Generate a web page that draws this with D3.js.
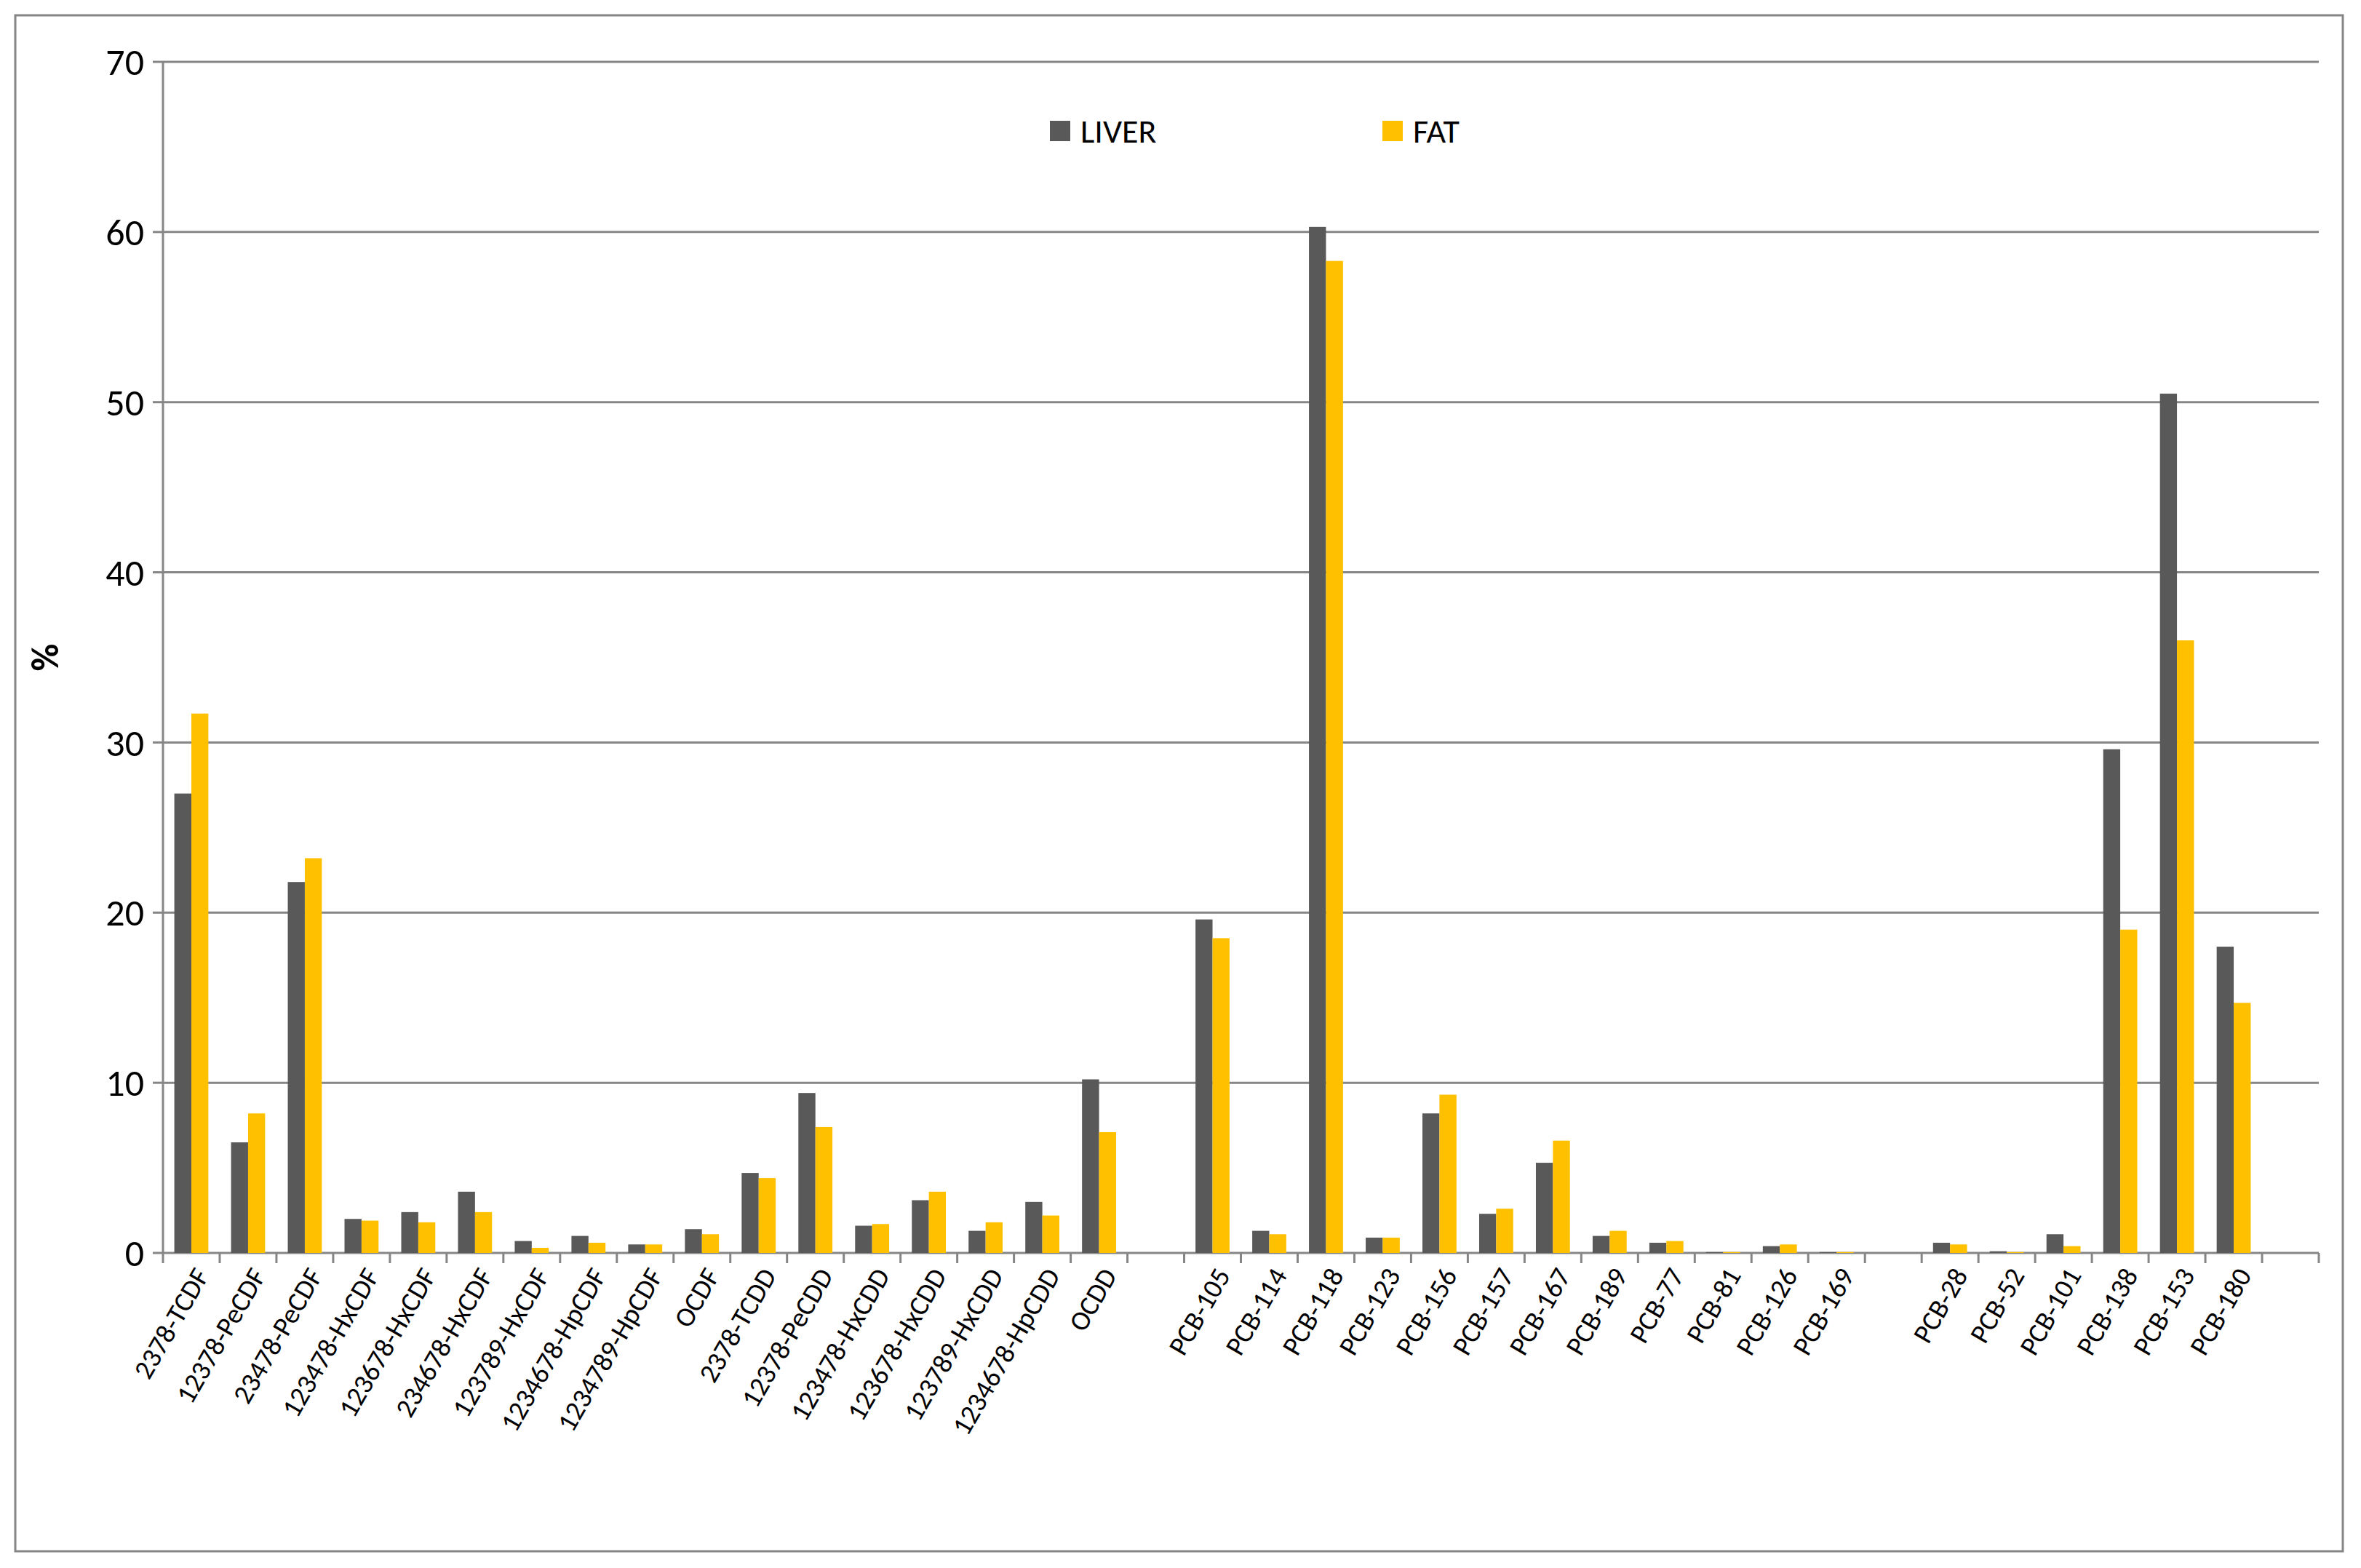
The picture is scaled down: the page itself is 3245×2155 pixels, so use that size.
<!DOCTYPE html>
<html><head><meta charset="utf-8">
<script src="https://cdn.jsdelivr.net/npm/d3@7"></script>
<style>body{margin:0;background:#fff}</style></head>
<body><svg id="c" width="3245" height="2155"></svg>
<script>
const categories=["2378-TCDF","12378-PeCDF","23478-PeCDF","123478-HxCDF","123678-HxCDF","234678-HxCDF","123789-HxCDF","1234678-HpCDF","1234789-HpCDF","OCDF","2378-TCDD","12378-PeCDD","123478-HxCDD","123678-HxCDD","123789-HxCDD","1234678-HpCDD","OCDD","_gap1","PCB-105","PCB-114","PCB-118","PCB-123","PCB-156","PCB-157","PCB-167","PCB-189","PCB-77","PCB-81","PCB-126","PCB-169","_gap2","PCB-28","PCB-52","PCB-101","PCB-138","PCB-153","PCB-180","_gap3"];
const liver=[27,6.5,21.8,2.0,2.4,3.6,0.7,1.0,0.5,1.4,4.7,9.4,1.6,3.1,1.3,3.0,10.2,null,19.6,1.3,60.3,0.9,8.2,2.3,5.3,1.0,0.6,0.05,0.4,0.05,null,0.6,0.1,1.1,29.6,50.5,18.0,null];
const fat=[31.7,8.2,23.2,1.9,1.8,2.4,0.3,0.6,0.5,1.1,4.4,7.4,1.7,3.6,1.8,2.2,7.1,null,18.5,1.1,58.3,0.9,9.3,2.6,6.6,1.3,0.7,0.05,0.5,0.05,null,0.5,0.05,0.4,19.0,36.0,14.7,null];
const yTicks=[0,10,20,30,40,50,60,70];
const seriesNames=["LIVER","FAT"];
const colors=["#595959","#FFC000"];

const svg=d3.select("#c");
svg.append("rect").attr("x",21).attr("y",21).attr("width",3199).attr("height",2111).attr("fill","#fff").attr("stroke","#868686").attr("stroke-width",3);
const L=224,R=3187,T=85,B=1722;
const x=d3.scaleBand().domain(categories).range([L,R]);
const y=d3.scaleLinear().domain([0,70]).range([B,T]);
const font="Calibri, Carlito, 'Open Sans', sans-serif";
svg.append("g").selectAll("line").data(yTicks).join("line")
 .attr("x1",L).attr("x2",R).attr("y1",d=>y(d)).attr("y2",d=>y(d)).attr("stroke","#868686").attr("stroke-width",3);
svg.append("line").attr("x1",L).attr("x2",L).attr("y1",T).attr("y2",B).attr("stroke","#868686").attr("stroke-width",3);
svg.append("g").selectAll("line").data(yTicks).join("line")
 .attr("x1",L-14).attr("x2",L).attr("y1",d=>y(d)).attr("y2",d=>y(d)).attr("stroke","#868686").attr("stroke-width",3);
svg.append("g").selectAll("text").data(yTicks).join("text")
 .attr("x",L-26).attr("y",d=>y(d)).attr("dy","0.35em").attr("text-anchor","end")
 .attr("font-family",font).attr("font-size",52).text(d=>d);
svg.append("g").selectAll("line").data(categories.concat(["_end"])).join("line")
 .attr("x1",(d,i)=>L+i*x.step()).attr("x2",(d,i)=>L+i*x.step()).attr("y1",B).attr("y2",B+14).attr("stroke","#868686").attr("stroke-width",3);
const bw=x.bandwidth()*0.3;
const data=categories.map((c,i)=>({c,v:[liver[i],fat[i]]}));
data.forEach(d=>{
  if(d.v[0]==null) return;
  const cx=x(d.c)+x.bandwidth()/2;
  d.v.forEach((v,k)=>{
    svg.append("rect").attr("x",cx-bw+k*bw).attr("width",bw).attr("y",y(v)).attr("height",B-y(v)).attr("fill",colors[k]);
  });
});
svg.append("g").selectAll("text").data(categories.filter(c=>!c.startsWith("_"))).join("text")
 .attr("transform",d=>`translate(${x(d)+x.bandwidth()/2+14},${B+24}) rotate(-60)`)
 .attr("text-anchor","end").attr("dy","0.35em").attr("font-family",font).attr("font-size",38).text(d=>d);
svg.append("text").attr("transform",`translate(80,${(T+B)/2}) rotate(-90)`).attr("text-anchor","middle")
 .attr("font-family",font).attr("font-size",52).attr("font-weight","bold").text("%");
const lx=[1443,1900];
seriesNames.forEach((n,k)=>{
  svg.append("rect").attr("x",lx[k]).attr("y",166).attr("width",28).attr("height",28).attr("fill",colors[k]);
  svg.append("text").attr("x",lx[k]+42).attr("y",180).attr("dy","0.35em").attr("font-family",font).attr("font-size",46).text(n);
});
</script></body></html>
